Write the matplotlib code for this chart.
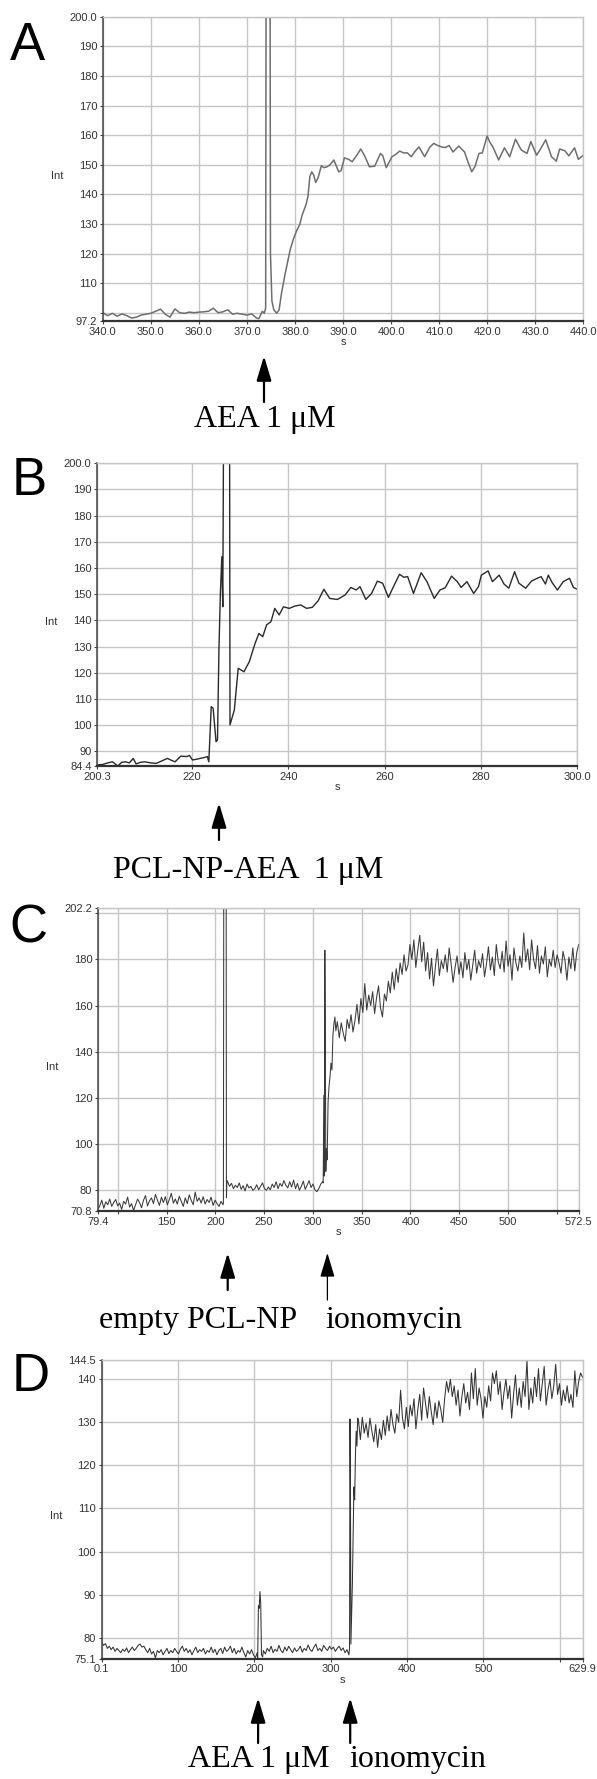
import numpy as np
import matplotlib
matplotlib.use("Agg")
import matplotlib.pyplot as plt
from matplotlib.patches import FancyArrowPatch
from matplotlib.transforms import IdentityTransform

W, H = 597, 1779

# ---------------- panel A : AEA 1 uM ----------------
a_points = [
    (340, 100.0), (341, 99.0), (342, 99.8), (343, 98.8), (344, 99.6), (345, 99.0),
    (346, 98.2), (347, 98.5), (348, 99.2), (349, 99.5), (350, 99.8), (351, 100.5),
    (352, 101.2), (353, 99.5), (354, 98.5), (355, 101.3), (356, 100.0), (357, 99.8),
    (358, 100.2), (359, 100.0), (360, 100.2), (361, 100.3), (362, 100.5), (363, 101.5),
    (364, 100.0), (365, 100.3), (366, 101.0), (367, 99.5), (368, 99.8), (369, 99.5),
    (370, 99.2), (371, 99.6), (372, 98.2), (372.5, 98.0), (373.2, 100.5), (373.6, 99.8),
    (373.9, 101.5), (374.0, 230.0), (374.8, 230.0), (374.9, 120.0), (375.2, 104.0),
    (375.6, 101.0), (376.2, 99.8), (376.7, 101.0), (377.2, 106.6), (378.0, 113.5),
    (379.0, 121.2), (379.7, 125.0), (380.4, 127.9), (381.0, 129.8), (381.5, 133.0),
    (382.3, 136.5), (382.7, 139.2), (383.1, 146.0), (383.5, 147.6), (383.9, 146.5),
    (384.3, 144.0), (384.8, 145.5), (385.5, 149.7), (386.0, 149.0), (386.7, 149.3),
    (387.3, 150.0), (388.1, 151.6), (389.1, 147.6), (389.6, 148.0), (390.3, 152.3),
    (391.2, 151.8), (391.9, 151.0), (392.8, 153.0), (393.7, 155.3), (394.5, 153.0),
    (395.5, 149.3), (396.6, 149.5), (397.8, 153.8), (398.3, 153.0), (399.0, 149.0),
    (400.2, 152.7), (401.0, 153.5), (401.8, 154.6), (402.6, 154.0), (403.4, 154.0),
    (404.2, 152.7), (405.0, 154.5), (405.8, 156.0), (407.0, 152.7), (408.1, 156.0),
    (408.9, 157.2), (409.7, 156.5), (410.5, 156.0), (411.3, 155.8), (412.1, 156.5),
    (412.9, 154.3), (414.1, 156.3), (415.3, 154.3), (416.0, 151.0), (416.8, 147.6),
    (417.5, 149.5), (418.3, 153.8), (419.0, 154.0), (420.0, 159.7), (420.6, 157.5),
    (421.2, 156.0), (422.4, 151.6), (423.6, 155.7), (424.7, 152.7), (425.9, 158.6),
    (427.1, 155.0), (428.3, 153.8), (429.1, 157.8), (430.3, 153.2), (431.0, 155.0),
    (432.2, 158.4), (433.4, 152.7), (434.4, 151.2), (435.1, 155.3), (436.2, 154.7),
    (437.0, 153.0), (438.2, 155.7), (439.0, 151.8), (440.0, 153.2),
]

# ---------------- panel B : PCL-NP-AEA 1 uM ----------------
b_points = [
    (200.3, 84.8), (201.5, 85.0), (202.5, 85.6), (203.5, 86.0), (204.6, 84.4), (205.4, 85.8),
    (206.2, 86.0), (207.0, 85.6), (207.8, 87.3), (208.4, 85.2), (209.3, 85.8), (210.2, 86.0),
    (211.4, 85.6), (212.6, 85.4), (213.8, 86.4), (214.9, 87.3), (215.7, 86.6), (216.5, 86.0),
    (217.7, 88.2), (218.9, 88.0), (219.5, 88.4), (220.1, 86.7), (221.0, 87.0), (221.7, 87.3),
    (222.5, 87.6), (223.2, 88.0), (223.5, 86.0), (224.0, 107.1), (224.4, 106.4), (225.0, 93.7),
    (225.3, 94.3), (225.6, 128.7), (225.9, 150.3), (226.2, 164.3), (226.4, 145.2),
    (226.6, 230.0), (227.8, 230.0), (227.9, 100.1), (228.8, 105.8), (229.6, 121.7),
    (230.8, 120.4), (231.9, 124.2), (233.1, 131.2), (233.9, 135.0), (234.7, 133.8),
    (235.5, 138.3), (236.4, 139.5), (237.2, 144.6), (238.1, 142.1), (239.0, 145.2),
    (240.2, 144.6), (241.4, 145.5), (242.6, 145.9), (243.8, 144.6), (245.0, 145.0),
    (246.2, 147.5), (247.4, 151.9), (248.6, 148.4), (250.2, 148.0), (251.8, 149.7),
    (253.0, 152.6), (254.1, 151.6), (254.9, 152.9), (256.1, 148.0), (257.3, 150.3),
    (258.5, 155.0), (259.6, 154.2), (260.8, 148.8), (262.0, 153.5), (263.1, 157.6),
    (264.0, 156.5), (264.8, 156.7), (266.0, 150.3), (267.6, 158.2), (268.8, 154.8),
    (270.3, 148.4), (271.5, 151.6), (272.6, 152.5), (273.9, 156.9), (275.1, 154.8),
    (275.9, 152.6), (277.1, 154.8), (278.5, 150.3), (279.5, 152.9), (280.1, 157.3),
    (281.5, 158.9), (282.4, 154.8), (283.8, 157.3), (284.8, 153.9), (285.8, 152.3),
    (287.0, 158.6), (287.9, 154.2), (289.3, 152.3), (290.5, 155.0), (291.7, 156.1),
    (292.5, 156.7), (293.4, 153.9), (294.0, 157.3), (294.8, 154.4), (295.9, 151.6),
    (297.1, 154.8), (298.4, 156.1), (299.2, 152.6), (300.0, 151.9),
]

# ---------------- panel C : empty PCL-NP, then ionomycin ----------------
c_base_span = (79.4, 207.8)
c_base = [71.5, 73.0, 75.5, 72.0, 74.8, 73.5, 76.0, 72.8, 74.5, 75.8, 73.0, 74.2, 71.5,
          75.0, 73.8, 76.8, 72.5, 74.0, 71.0, 73.5, 76.0, 74.5, 72.2, 75.5, 77.5, 73.0,
          75.2, 76.5, 74.0, 78.0, 75.5, 73.2, 76.8, 74.5, 77.0, 73.5, 75.8, 78.5, 74.2,
          76.0, 73.8, 77.2, 75.0, 72.8, 76.5, 74.0, 77.8, 75.5, 73.5, 79.0, 75.0, 76.5,
          74.2, 77.0, 73.8, 75.8, 74.5, 76.8, 73.2, 75.5, 74.0, 72.8, 75.0, 73.5]
c_spike = [(208.2, 74.5), (208.6, 230.0), (211.0, 230.0), (211.3, 76.5), (211.8, 84.0)]
c_mid_span = (212.5, 310.0)
c_mid = [83.5, 81.5, 82.8, 80.5, 82.0, 81.0, 83.0, 80.2, 81.8, 79.5, 82.5, 80.8, 81.5,
         79.8, 80.5, 82.2, 80.0, 81.5, 83.0, 80.5, 79.8, 81.2, 80.0, 82.5, 81.0, 83.5,
         80.5, 82.8, 81.5, 84.0, 82.0, 80.8, 83.5, 81.2, 84.2, 80.5, 82.8, 79.8, 81.5,
         83.8, 80.2, 82.0, 84.0, 81.0, 82.5, 80.0, 79.2, 80.5, 82.5, 83.5]
c_rise = [(310.5, 83.0), (311.2, 121.0), (311.7, 86.0), (312.2, 184.0), (312.7, 145.0),
          (313.2, 88.0), (313.8, 98.0), (314.6, 93.0), (315.5, 118.0), (316.5, 125.0),
          (317.5, 129.0), (318.5, 135.0), (319.5, 132.0), (320.5, 147.0), (321.5, 152.0),
          (322.5, 155.0), (323.5, 149.0)]
c_plat_span = (325.0, 572.5)
c_plat = [153.0, 146.0, 152.5, 148.0, 144.5, 154.0, 150.0, 156.0, 148.5, 153.5,
          160.5, 152.0, 163.0, 157.0, 169.5, 158.0, 164.5, 160.0, 166.0, 156.5, 163.5,
          168.5, 159.0, 155.0, 165.0, 162.0, 170.5, 165.5,
          174.5, 167.0, 176.0, 170.0, 178.5, 173.5, 182.0, 175.0, 177.5, 186.5, 180.0,
          188.5, 176.5, 184.0, 190.5,
          179.0, 187.5, 175.0, 183.0, 171.5, 180.5, 168.5, 177.0, 184.5, 173.0, 179.5,
          176.0, 182.0, 174.5, 185.0, 178.0, 170.0, 176.5, 181.5, 173.5, 179.0, 172.0,
          183.0, 175.5, 180.0, 171.0, 177.5, 184.0, 174.0, 179.5, 176.5, 182.5, 172.5,
          178.0, 185.5, 175.5, 181.0, 173.0, 186.5, 179.0, 176.0, 183.5, 174.5, 188.0,
          177.0, 182.0, 171.0, 185.0, 178.5, 175.0, 181.5, 176.5, 191.5, 179.0, 184.5,
          175.5, 188.5, 180.0, 176.0, 186.0, 174.0, 181.5, 178.0, 185.5, 172.5, 180.0,
          177.0, 184.0, 176.5, 182.0, 178.5, 174.0, 183.5, 179.5, 171.0, 181.0, 176.0,
          185.0, 175.0, 183.0, 186.5]

# ---------------- panel D : AEA 1 uM, then ionomycin ----------------
d_base_span = (0.1, 204.0)
d_base = [79.0, 78.2, 78.6, 77.5, 78.0, 77.2, 77.8, 76.8, 77.5, 77.0, 76.5, 77.3, 76.8,
          77.6, 76.5, 77.2, 77.8, 77.0, 77.5, 78.2, 78.5, 77.8, 78.0, 77.2, 76.5, 77.5,
          76.2, 76.8, 75.3, 77.0, 76.5, 77.2, 76.0, 76.8, 77.5, 76.3, 77.0, 76.5, 77.5,
          76.8, 76.2, 77.3, 78.0, 76.8, 77.5, 76.5, 77.2, 76.0, 77.0, 77.8, 76.5, 77.2,
          76.8, 77.5, 76.2, 77.0, 76.6, 77.8, 76.5, 77.3, 76.0, 77.0, 77.5, 76.3, 77.8,
          76.8, 77.2, 78.0, 76.5, 77.5, 76.2, 77.0, 76.6, 77.8, 76.5, 75.5, 77.0, 76.2,
          77.2, 76.0, 75.3, 76.5]
d_spike = [(204.5, 75.2), (205.5, 87.5), (206.5, 86.8), (207.5, 90.7), (208.5, 88.0),
           (209.5, 76.0), (211.0, 75.5)]
d_mid_span = (212.0, 324.0)
d_mid = [77.0, 76.2, 77.5, 76.8, 78.0, 76.5, 77.3, 76.8, 78.2, 77.0, 76.5, 77.8, 76.9,
         78.0, 77.2, 76.5, 77.6, 76.8, 77.2, 78.0, 76.6, 77.5, 77.0, 78.3, 77.2, 76.8,
         77.8, 78.5, 77.0, 77.5, 76.8, 78.2, 77.5, 77.0, 78.0, 77.3, 77.8, 76.8, 77.5,
         78.0, 77.0, 77.6, 76.5, 77.2, 76.0]
d_rise = [(324.8, 77.5), (325.4, 130.8), (326.0, 115.0), (326.6, 78.5), (327.5, 85.0),
          (328.6, 93.0), (329.6, 105.0), (330.5, 115.0), (331.5, 112.0), (332.5, 122.0),
          (333.5, 128.0), (334.5, 124.5), (335.5, 131.0)]
d_plat_span = (336.5, 629.9)
d_plat = [130.5, 126.0, 131.2, 127.5, 129.8, 126.5, 131.0, 128.0, 125.5, 129.5,
          124.2, 128.5, 126.0, 130.5, 127.0, 131.5, 128.0, 133.0, 129.5, 127.5, 132.0,
          130.0, 137.5, 131.0, 128.5, 133.5,
          129.0, 134.0, 131.5, 135.5, 128.5, 133.0, 136.5, 130.5, 138.0, 134.5, 131.0,
          136.0, 132.5, 129.5, 134.5, 131.0, 135.0, 133.0, 130.0, 135.5,
          139.5, 137.0, 140.0, 136.0, 138.5, 134.0, 137.5, 131.5, 136.0, 139.0, 134.5,
          137.0, 133.0, 141.5, 135.5, 142.5, 134.0, 138.0, 135.5, 131.0,
          136.0, 133.5, 138.5, 135.0, 141.5, 139.0, 142.0, 136.5, 139.5, 133.0, 137.0,
          140.0, 135.5, 138.5, 131.0, 136.5, 141.0, 134.0, 138.0, 133.5, 139.5, 136.0,
          144.5, 133.0,
          138.0, 134.5, 140.5, 136.0, 142.5, 135.0, 139.0, 143.0, 134.0, 137.5, 140.0,
          135.5, 138.5, 143.5, 136.5, 139.0, 134.0, 137.5, 135.0, 138.5, 134.5, 136.5,
          133.5, 142.0, 136.0, 139.5, 141.5, 140.5]


def series(parts):
    ts, vs = [], []
    for p in parts:
        if isinstance(p, tuple):
            span, vals = p
            ts.append(np.linspace(span[0], span[1], len(vals)))
            vs.append(np.asarray(vals, float))
        else:
            t, v = zip(*p)
            ts.append(np.asarray(t, float))
            vs.append(np.asarray(v, float))
    return np.concatenate(ts), np.concatenate(vs)


GRID = "#c6c6c6"
TXT = "#333333"

fig = plt.figure(figsize=(W / 100, H / 100), dpi=100)


def px_axes(x0, y0, x1, y1):
    return fig.add_axes([x0 / W, 1 - y1 / H, (x1 - x0) / W, (y1 - y0) / H])


def setup(ax, xlim, ylim, xt, xl, yt, yl):
    ax.set_xlim(xlim)
    ax.set_ylim(ylim)
    ax.set_xticks(xt)
    ax.set_xticklabels(xl)
    ax.set_yticks(yt)
    ax.set_yticklabels(yl)
    ax.grid(True, color=GRID, lw=1.0)
    ax.set_axisbelow(True)
    for s in ("top", "right"):
        ax.spines[s].set_color(GRID)
        ax.spines[s].set_linewidth(1.0)
    ax.spines["left"].set_color("#444444")
    ax.spines["left"].set_linewidth(1.1)
    ax.spines["bottom"].set_color("#333333")
    ax.spines["bottom"].set_linewidth(1.6)
    ax.tick_params(length=2.5, width=0.8, color="#444444", pad=1.5,
                   labelsize=8, labelcolor=TXT)
    for lab in ax.get_xticklabels() + ax.get_yticklabels():
        lab.set_family("Liberation Sans")
    ax.set_xlabel("s", fontsize=8, color=TXT, family="Liberation Sans", labelpad=0.5)
    ax.set_ylabel("Int", fontsize=8, color=TXT, family="Liberation Sans",
                  rotation=0, ha="center", va="center")
    ax.yaxis.set_label_coords(-0.095, 0.477)


# A
ax = px_axes(102.8, 16.7, 583.2, 321)
t, v = series([a_points])
ax.plot(t, v, color="#6e6e6e", lw=1.1)
setup(ax, (340, 440), (97.2, 200),
      list(range(340, 441, 10)), ["%.1f" % x for x in range(340, 441, 10)],
      [97.2, 100] + list(range(110, 201, 10)),
      ["97.2", ""] + [str(y) for y in range(110, 200, 10)] + ["200.0"])

# B
ax = px_axes(97.1, 463.3, 577.2, 766)
t, v = series([b_points])
ax.plot(t, v, color="#2a2a2a", lw=1.0)
setup(ax, (200.3, 300), (84.4, 200),
      [200.3, 220, 240, 260, 280, 300], ["200.3", "220", "240", "260", "280", "300.0"],
      [84.4] + list(range(90, 201, 10)),
      ["84.4"] + [str(y) for y in range(90, 200, 10)] + ["200.0"])

# C
ax = px_axes(97.8, 908.3, 578.7, 1211)
t, v = series([(c_base_span, c_base), c_spike, (c_mid_span, c_mid), c_rise,
               (c_plat_span, c_plat)])
ax.plot(t, v, color="#3a3a3a", lw=0.75)
setup(ax, (79.4, 572.5), (70.8, 202.2),
      [79.4, 100, 150, 200, 250, 300, 350, 400, 450, 500, 550, 572.5],
      ["79.4", "", "150", "200", "250", "300", "350", "400", "450", "500", "", "572.5"],
      [70.8, 80, 100, 120, 140, 160, 180, 200, 202.2],
      ["70.8", "80", "100", "120", "140", "160", "180", "", "202.2"])

# D
ax = px_axes(101.6, 1360, 582.5, 1658.7)
t, v = series([(d_base_span, d_base), d_spike, (d_mid_span, d_mid), d_rise,
               (d_plat_span, d_plat)])
ax.plot(t, v, color="#333333", lw=0.75)
setup(ax, (0.1, 629.9), (75.1, 144.5),
      [0.1, 100, 200, 300, 400, 500, 600, 629.9],
      ["0.1", "100", "200", "300", "400", "500", "", "629.9"],
      [75.1, 80, 90, 100, 110, 120, 130, 140, 144.5],
      ["75.1", "80", "90", "100", "110", "120", "130", "140", "144.5"])

# panel letters
for letter, x, y in [("A", 9.5, 60), ("B", 11.4, 495), ("C", 9.5, 942), ("D", 11.4, 1391)]:
    fig.text(x / W, 1 - y / H, letter, fontsize=38, family="Liberation Sans",
             ha="left", va="baseline")

# stimulus labels
SERIF = "Liberation Serif"
for s, x, y in [("AEA 1 \u03bcM", 194, 427), ("PCL-NP-AEA  1 \u03bcM", 113.4, 878),
                ("empty PCL-NP", 99, 1328), ("ionomycin", 325.5, 1328),
                ("AEA 1 \u03bcM", 188.4, 1767), ("ionomycin", 349.4, 1767)]:
    fig.text(x / W, 1 - y / H, s, fontsize=23, family=SERIF, ha="left", va="baseline")

# arrows (x, tail y, tip y, shaft width)
for x, y0, y1, w in [(264, 402, 356, 1.6), (219, 840, 803, 1.6), (227.7, 1290, 1253, 1.6),
                     (327.4, 1300, 1253, 0.9), (258.1, 1743, 1698, 1.6),
                     (350.2, 1743, 1698, 1.6)]:
    arr = FancyArrowPatch((x, H - y0), (x, H - y1), transform=IdentityTransform(),
                          arrowstyle="-|>,head_length=15,head_width=4.5",
                          mutation_scale=1, lw=w, color="black",
                          shrinkA=0, shrinkB=0)
    fig.add_artist(arr)

fig.savefig("out.png", dpi=100)
